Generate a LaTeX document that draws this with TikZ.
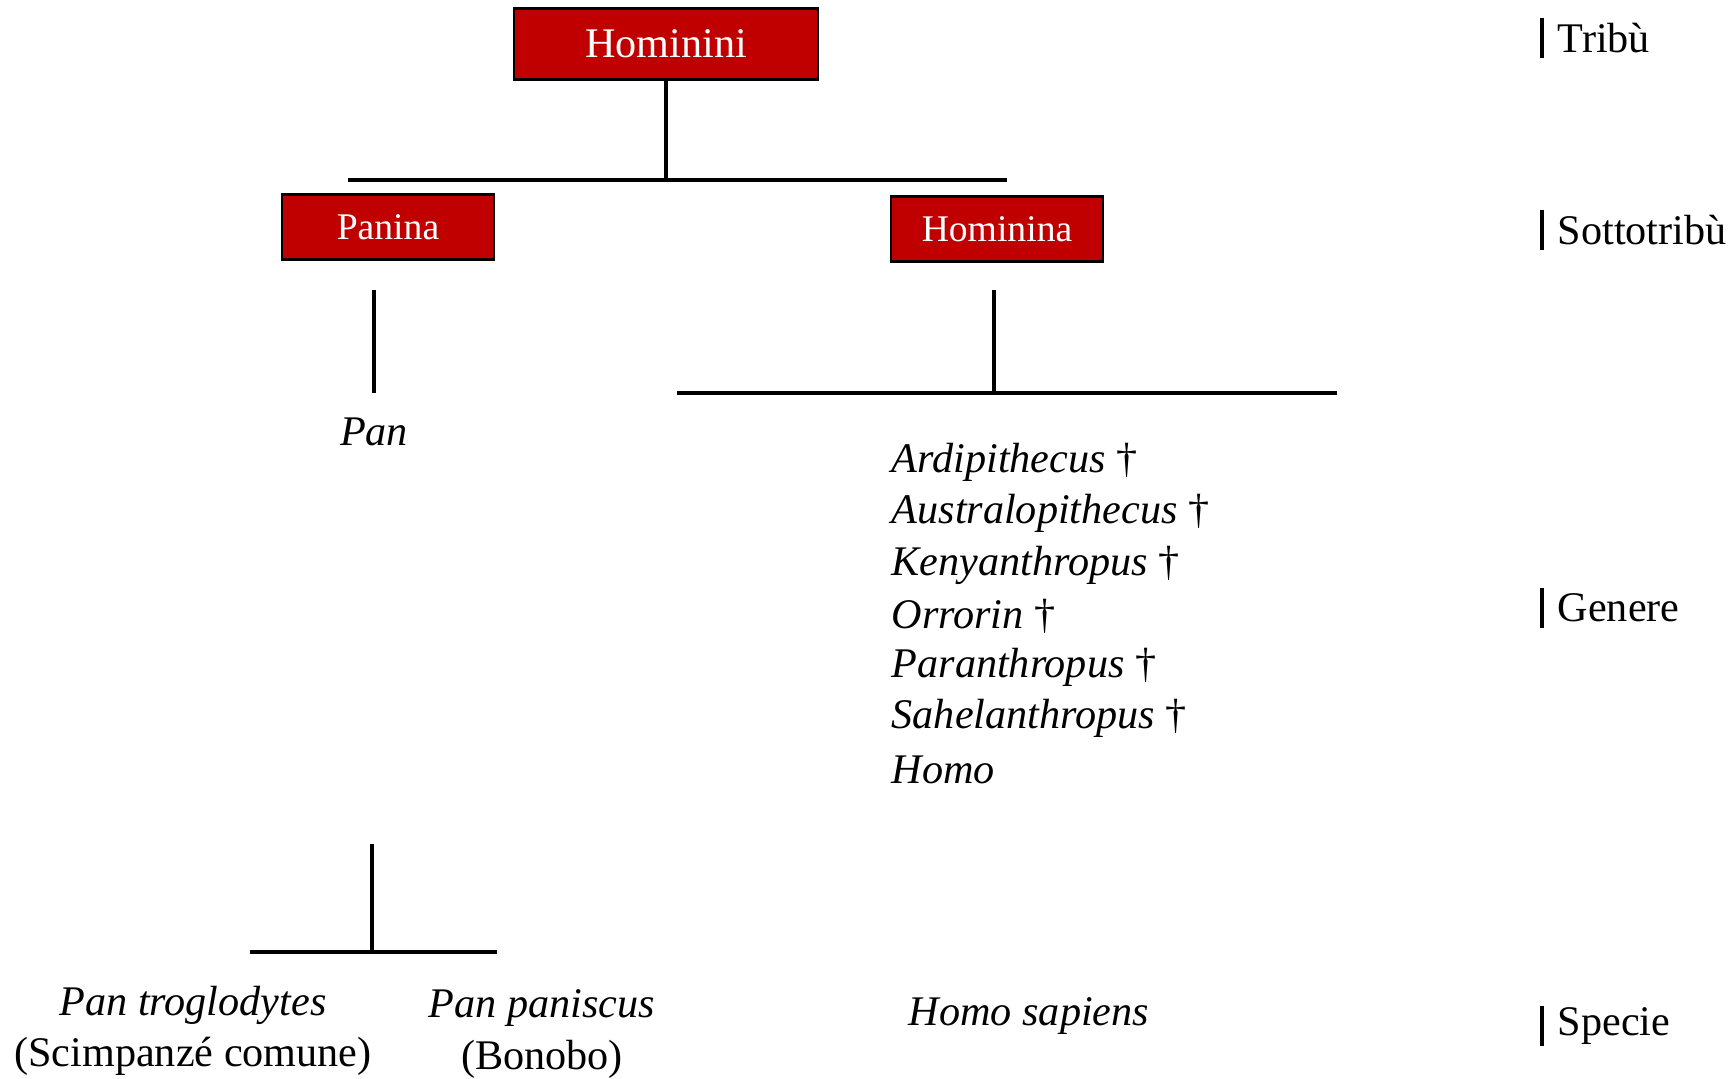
\documentclass[tikz,border=0pt]{standalone}
\usepackage{fontspec}
\setmainfont{Liberation Serif}
\definecolor{boxred}{HTML}{C00000}
\tikzset{
  taxon/.style={rectangle, draw=black, line width=0.6pt, fill=boxred, text=white, inner sep=0pt},
  branch/.style={line width=1.1pt},
  stem/.style={line width=0.9pt},
  rank/.style={anchor=west, inner sep=0pt, font=\fontsize{12}{14}\selectfont},
  rankbar/.style={line width=1.3pt},
  genus/.style={anchor=west, inner sep=0pt, font=\fontsize{12}{14}\selectfont},
  species/.style={align=center, inner sep=0pt, font=\fontsize{12}{14.6}\selectfont},
}
\begin{document}
\begin{tikzpicture}[x=0.01cm, y=-0.01cm]
	\useasboundingbox (0,0) rectangle (1733,1078);
	% tribe
	\node (hominini) at (666,44)	[taxon, minimum width=3.03cm, minimum height=0.71cm, font=\fontsize{12}{14}\selectfont]	{Hominini};
	\coordinate (tribeL) at (348,180);
	\coordinate (tribeR) at (1007,180);
	\draw[stem] (hominini.south) -- (hominini.south |- tribeL);
	\draw[branch] (tribeL) -- (tribeR);
	% subtribes
	\node (panina) at (388,227)	[taxon, minimum width=2.11cm, minimum height=0.65cm, font=\fontsize{10.7}{13}\selectfont]	{Panina};
	\node (hominina) at (997,229)	[taxon, minimum width=2.12cm, minimum height=0.65cm, font=\fontsize{10.7}{13}\selectfont]	{Hominina};
	% genera
	\coordinate (paninaTop) at (374,290);
	\coordinate (paninaBot) at (374,393);
	\draw[stem] (paninaTop) -- (paninaBot);
	\node (pan) at (374,432)	[genus, anchor=center]	{\textit{Pan}};
	\coordinate (homininaTop) at (994,290);
	\coordinate (generaL) at (677,393);
	\coordinate (generaR) at (1337,393);
	\draw[stem] (homininaTop) -- (homininaTop |- generaL);
	\draw[branch] (generaL) -- (generaR);
	\foreach \g/\d [count=\i] in {Ardipithecus/ †, Australopithecus/ †, Kenyanthropus/ †, Orrorin/ †, Paranthropus/ †, Sahelanthropus/ †, Homo/{}}
		\node (genus\i) at (891,{411+51.3*\i})	[genus]	{\textit{\g}\d};
	% species
	\coordinate (panStem) at (372,844);
	\coordinate (speciesL) at (250,952);
	\coordinate (speciesR) at (497,952);
	\draw[stem] (panStem) -- (panStem |- speciesL);
	\draw[branch] (speciesL) -- (speciesR);
	\node (troglodytes) at (193,1031)	[species]	{\textit{Pan troglodytes}\\(Scimpanzé comune)};
	\node (paniscus) at (542,1034)	[species]	{\textit{Pan paniscus}\\(Bonobo)};
	\node (sapiens) at (1029,1016)	[species]	{\textit{Homo sapiens}};
	% ranks
	\foreach \y/\r/\n in {38/Tribù/tribu, 230/Sottotribù/sottotribu, 608/Genere/genere, 1026/Specie/specie}{
		\node (\n) at (1557,\y)	[rank]	{\r};
		\draw[rankbar] ([xshift=-0.15cm, yshift=0.2cm]\n.west) -- ([xshift=-0.15cm, yshift=-0.2cm]\n.west);
	}
\end{tikzpicture}
\end{document}
